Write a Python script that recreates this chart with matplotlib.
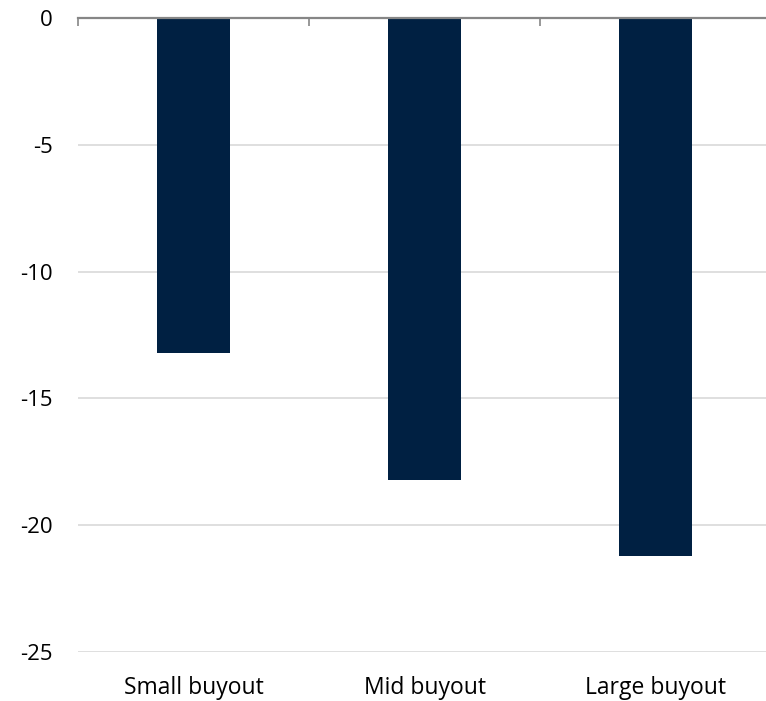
import matplotlib
matplotlib.use("Agg")
import matplotlib.pyplot as plt
from matplotlib.ticker import FixedLocator

categories = ["Small buyout", "Mid buyout", "Large buyout"]
values = [-13.2, -18.2, -21.2]
y_ticks = [0, -5, -10, -15, -20, -25]

plt.rcParams["font.family"] = ["Open Sans", "DejaVu Sans"]

W, H = 766, 701
fig = plt.figure(figsize=(W / 100, H / 100), dpi=100)
ax = fig.add_axes([78 / W, 1 - 652 / H, (771 - 78) / W, (652 - 18) / H])

x = list(range(len(categories)))
ax.bar(x, values, width=0.314, color="#002042", zorder=3)

ax.set_xlim(-0.5, len(categories) - 0.5)
ax.set_ylim(-25, 0)
ax.set_yticks(y_ticks)
ax.set_yticklabels([str(v) for v in y_ticks])
ax.set_xticks(x)
ax.set_xticklabels(categories)

ax.grid(axis="y", color="#d9d9d9", linewidth=1.2, zorder=0)
ax.set_axisbelow(True)

for side in ["left", "right", "bottom"]:
    ax.spines[side].set_visible(False)
ax.spines["top"].set_color("#868686")
ax.spines["top"].set_linewidth(1.6)
ax.spines["top"].set_zorder(4)

ax.tick_params(axis="y", length=0, pad=18, labelsize=16, labelcolor="#000000")
ax.tick_params(axis="x", which="major", length=0, pad=17.5, labelsize=16.5, labelcolor="#000000")

# category separator ticks hanging from the zero line
ax.xaxis.set_minor_locator(FixedLocator([-0.5, 0.5, 1.5, 2.5]))
ax.tick_params(axis="x", which="minor", bottom=False, top=True, direction="in",
               length=6, width=1.2, color="#868686")

fig.savefig("out.png", dpi=100)
